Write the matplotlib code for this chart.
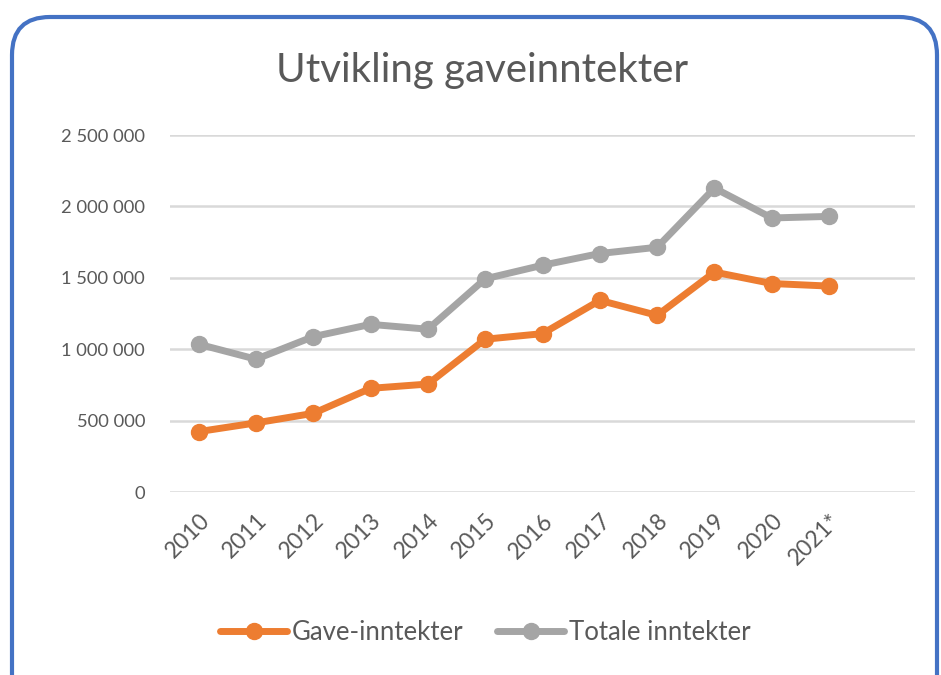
import matplotlib
matplotlib.use("Agg")
import matplotlib.pyplot as plt
from matplotlib.patches import FancyBboxPatch
from matplotlib.transforms import IdentityTransform
from matplotlib.ticker import FuncFormatter

years = ['2010', '2011', '2012', '2013', '2014', '2015', '2016',
         '2017', '2018', '2019', '2020', '2021*']
gave_inntekter = [423000, 484000, 551000, 726000, 756000, 1070000, 1109000,
                  1342000, 1237000, 1540000, 1460000, 1442000]
totale_inntekter = [1035000, 930000, 1088000, 1174000, 1140000, 1493000, 1588000,
                    1670000, 1714000, 2128000, 1919000, 1930000]
yticks = [0, 500000, 1000000, 1500000, 2000000, 2500000]

text_col = '#595959'
plt.rcParams['font.family'] = ['Lato', 'DejaVu Sans']

fig = plt.figure(figsize=(9.41, 6.75), dpi=100)
ax = fig.add_axes([0.1807, 0.2711, 0.7917, 0.5289])

x = list(range(len(years)))
ax.plot(x, gave_inntekter, color='#ED7D31', lw=5, marker='o', ms=11.5,
        solid_capstyle='round', label='Gave-inntekter', zorder=3)
ax.plot(x, totale_inntekter, color='#A5A5A5', lw=5, marker='o', ms=11.5,
        solid_capstyle='round', label='Totale inntekter', zorder=3)

ax.set_xlim(-0.5, len(years) + 0.5)
ax.set_ylim(0, 2500000)
ax.set_yticks(yticks)
ax.yaxis.set_major_formatter(FuncFormatter(lambda v, p: f'{int(v):,}'.replace(',', ' ')))
ax.set_xticks(x)
ax.set_xticklabels(years, rotation=45, ha='right', rotation_mode='anchor')
ax.tick_params(axis='y', length=0, pad=18, labelsize=13.2, labelcolor=text_col)
ax.tick_params(axis='x', length=0, pad=13, labelsize=16.5, labelcolor=text_col)
ax.grid(axis='y', color='#D9D9D9', lw=1.8)
ax.set_axisbelow(True)
for s in ax.spines.values():
    s.set_visible(False)

fig.text(0.512, 0.895, 'Utvikling gaveinntekter', ha='center', va='center',
         fontsize=29, color=text_col)

leg = fig.legend(loc='center', bbox_to_anchor=(0.516, 0.063), ncol=2,
                 frameon=False, fontsize=18.5, handlelength=2.6,
                 handletextpad=0.2, columnspacing=1.3)
for t in leg.get_texts():
    t.set_color(text_col)

box = FancyBboxPatch((12, -40), 925, 698, boxstyle='round,pad=0,rounding_size=38',
                     transform=IdentityTransform(), fill=False,
                     edgecolor='#4472C4', lw=3)
fig.patches.append(box)

fig.savefig('out.png', dpi=100)
